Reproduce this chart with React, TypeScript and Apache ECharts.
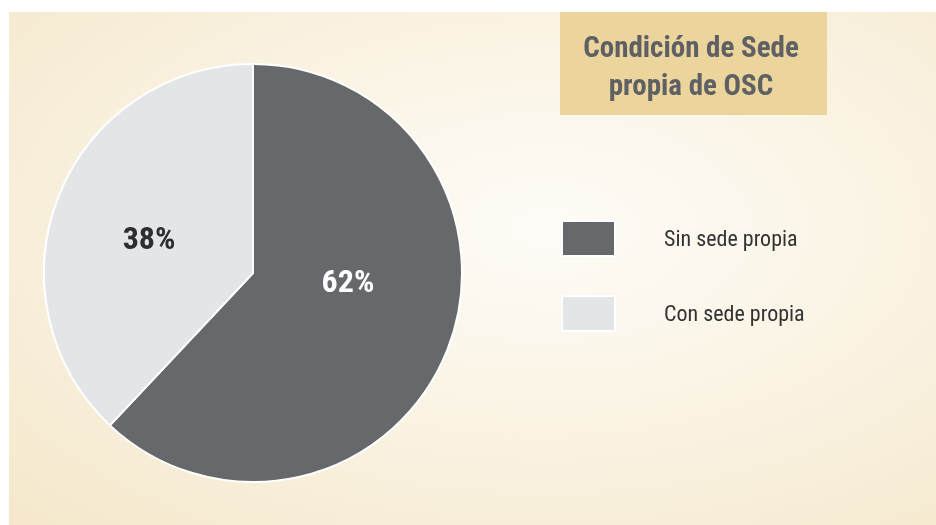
import React, { useEffect, useRef } from "react";
import * as echarts from "echarts";

const categories = ["Sin sede propia", "Con sede propia"];
const values = [62, 38];
const labelTexts = ["62%", "38%"];
const titleLines = ["Condición de Sede", "propia de OSC"];

const FONT = "'Liberation Sans Narrow', 'Roboto Condensed', Roboto, 'Liberation Sans', sans-serif";

export default function App() {
  const ref = useRef<HTMLDivElement>(null);
  useEffect(() => {
    if (!ref.current) return;
    const chart = echarts.init(ref.current, null, { renderer: "svg" });
    const colors = ["#67686b", "#e4e5e7"];
    const labelColors = ["#ffffff", "#2e2e30"];
    const offsets = [[-5, -32], [-4, 5]];
    chart.setOption({
      animation: false,
      graphic: [
        {
          type: "rect",
          z: -10,
          silent: true,
          shape: { x: 9, y: 12, width: 927, height: 513 },
          style: {
            fill: new echarts.graphic.RadialGradient(0.58, 0.42, 0.8, [
              { offset: 0, color: "#fefcf7" },
              { offset: 0.5, color: "#faf3e3" },
              { offset: 1, color: "#f5e8cc" },
            ]),
          },
        },
        {
          type: "rect",
          z: -5,
          silent: true,
          shape: { x: 560, y: 12, width: 267, height: 103 },
          style: { fill: "#ecd59c" },
        },
        {
          type: "text",
          x: 691,
          y: 66,
          style: {
            text: titleLines.join("\n"),
            fill: "#5f6064",
            font: `bold 29px ${FONT}`,
            align: "center",
            verticalAlign: "middle",
            lineHeight: 38,
          },
        },
      ],
      legend: {
        orient: "vertical",
        left: 561,
        top: 220,
        padding: 0,
        itemWidth: 53,
        itemHeight: 35,
        itemGap: 38,
        icon: "rect",
        selectedMode: false,
        textStyle: {
          fontFamily: FONT,
          fontSize: 22,
          color: "#333333",
          padding: [0, 0, 0, 44],
        },
        data: categories,
      },
      series: [
        {
          type: "pie",
          center: [253, 273],
          radius: 209,
          startAngle: 90,
          clockwise: true,
          silent: true,
          itemStyle: { borderColor: "#ffffff", borderWidth: 2 },
          labelLine: { show: false },
          data: categories.map((name, i) => ({
            name,
            value: values[i],
            itemStyle: { color: colors[i] },
            label: {
              show: true,
              position: "inside",
              formatter: labelTexts[i],
              color: labelColors[i],
              fontFamily: FONT,
              fontWeight: "bold",
              fontSize: 32,
              offset: offsets[i],
              textBorderWidth: 0,
            },
          })),
        },
      ],
    });
    return () => chart.dispose();
  }, []);
  return (
    <div
      ref={ref}
      style={{ position: "fixed", left: 0, top: 0, width: 936, height: 525 }}
    />
  );
}
